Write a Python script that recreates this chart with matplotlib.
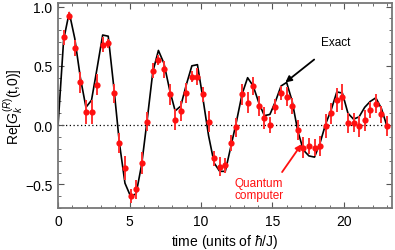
import matplotlib
matplotlib.use("Agg")
import matplotlib.pyplot as plt
from matplotlib.ticker import MultipleLocator

plt.rcParams['font.family'] = ['Liberation Sans', 'DejaVu Sans']
plt.rcParams['mathtext.fontset'] = 'custom'
plt.rcParams['mathtext.rm'] = 'Liberation Sans'
plt.rcParams['mathtext.it'] = 'Liberation Sans:italic'
plt.rcParams['mathtext.bf'] = 'Liberation Sans:bold'

# Quantum computer data
t_data = [0.39, 0.78, 1.17, 1.56, 1.95, 2.34, 2.73, 3.12, 3.51, 3.90,
          4.29, 4.68, 5.07, 5.46, 5.85, 6.24, 6.63, 7.02, 7.41, 7.80,
          8.19, 8.58, 8.97, 9.36, 9.75, 10.14, 10.53, 10.92, 11.31, 11.70,
          12.09, 12.48, 12.87, 13.26, 13.65, 14.04, 14.43, 14.82, 15.21, 15.60,
          15.99, 16.38, 16.77, 17.16, 17.55, 17.94, 18.33, 18.72, 19.11, 19.50,
          19.89, 20.28, 20.67, 21.06, 21.45, 21.84, 22.23, 22.62, 23.01]
qc_vals = [0.74, 0.92, 0.65, 0.36, 0.11, 0.11, 0.34, 0.68, 0.69, 0.27,
           -0.15, -0.36, -0.60, -0.54, -0.32, 0.03, 0.46, 0.55, 0.47, 0.26,
           0.045, 0.12, 0.27, 0.41, 0.41, 0.26, 0.03, -0.28, -0.35, -0.34,
           -0.15, -0.02, 0.26, 0.19, 0.33, 0.16, 0.06, 0.00, 0.155, 0.27,
           0.24, 0.16, -0.04, -0.19, -0.175, -0.19, -0.175, -0.005, 0.10, 0.21,
           0.235, 0.02, 0.02, -0.01, 0.04, 0.127, 0.18, 0.09, -0.01]
qc_err = [0.065, 0.03, 0.07, 0.085, 0.10, 0.10, 0.09, 0.065, 0.04, 0.08,
          0.085, 0.10, 0.06, 0.08, 0.09, 0.08, 0.065, 0.04, 0.07, 0.09,
          0.09, 0.085, 0.085, 0.05, 0.07, 0.065, 0.09, 0.065, 0.08, 0.06,
          0.07, 0.08, 0.09, 0.09, 0.08, 0.085, 0.09, 0.07, 0.065, 0.06,
          0.08, 0.065, 0.085, 0.09, 0.07, 0.07, 0.085, 0.10, 0.09, 0.10,
          0.11, 0.085, 0.08, 0.09, 0.09, 0.07, 0.08, 0.07, 0.085]

# Exact curve
t_exact = [0.0] + t_data
exact_vals = [0.0, 0.72, 0.95, 0.73, 0.40, 0.15, 0.21, 0.48, 0.76, 0.75, 0.32,
              -0.15, -0.49, -0.60, -0.58, -0.33, 0.05, 0.45, 0.63, 0.52, 0.30,
              0.12, 0.16, 0.34, 0.50, 0.51, 0.22, -0.09, -0.32, -0.39, -0.39,
              -0.18, 0.03, 0.26, 0.40, 0.33, 0.19, 0.08, 0.09, 0.20, 0.33,
              0.36, 0.20, -0.05, -0.21, -0.26, -0.27, -0.15, 0.01, 0.13, 0.28,
              0.27, 0.10, 0.05, 0.07, 0.15, 0.20, 0.23, 0.14, -0.01]

fig = plt.figure(figsize=(3.95, 2.51), dpi=100)
ax = fig.add_axes([0.147, 0.167, 0.845, 0.817])

ax.axhline(0, color='black', lw=0.9, ls=(0, (1, 2)), zorder=1)
ax.plot(t_exact, exact_vals, color='black', lw=1.2, zorder=2)
ax.errorbar(t_data, qc_vals, yerr=qc_err, fmt='none', ecolor='#ff3030',
            elinewidth=1.4, capsize=0, zorder=3)
ax.plot(t_data, qc_vals, 'o', color='#ff1010', ms=4.5, mec='none', zorder=4)

ax.set_xlim(0, 23.35)
ax.set_ylim(-0.70, 1.03)
ax.xaxis.set_major_locator(MultipleLocator(5))
ax.xaxis.set_minor_locator(MultipleLocator(1))
ax.yaxis.set_major_locator(MultipleLocator(0.5))
ax.yaxis.set_minor_locator(MultipleLocator(0.1))
ax.set_yticks([-0.5, 0.0, 0.5, 1.0])
ax.set_yticklabels(['\u22120.5', '0.0', '0.5', '1.0'])
ax.tick_params(which='both', direction='in', top=True, right=True,
               color='#555555', labelsize=10, pad=4)
ax.tick_params(which='major', length=4, width=0.8)
ax.tick_params(which='minor', length=2.5, width=0.6)
for s in ax.spines.values():
    s.set_color('#777777')
    s.set_linewidth(1.3)

ax.set_xlabel(r'time (units of $\hbar$/J)', fontsize=10, labelpad=3)
ax.set_ylabel(r'Re[$G_k^{(R)}$(t,0)]', fontsize=10, labelpad=0)

ax.annotate('Exact', xy=(15.9, 0.36), xytext=(19.45, 0.70),
            fontsize=8.5, ha='center', va='center', color='black',
            arrowprops=dict(arrowstyle='-|>', color='black', lw=1.3,
                            shrinkA=10, shrinkB=0, mutation_scale=9))
ax.annotate('Quantum\ncomputer', xy=(17.04, -0.16), xytext=(14.05, -0.54),
            fontsize=8.5, ha='center', va='center', color='#ff1010',
            linespacing=1.0,
            arrowprops=dict(arrowstyle='-|>', color='#ff1010', lw=1.3,
                            shrinkA=2, shrinkB=0, mutation_scale=9,
                            relpos=(0.9, 1.0)))

fig.savefig('out.png', dpi=100)
